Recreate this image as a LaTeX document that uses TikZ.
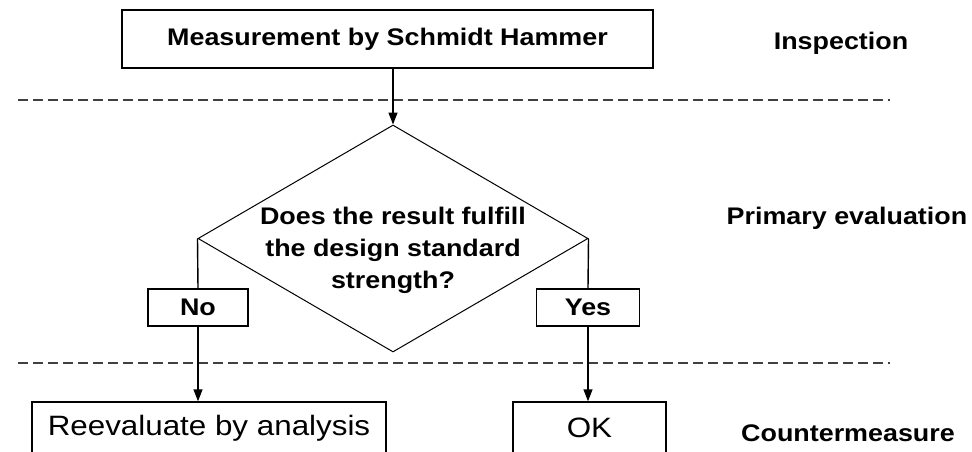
\documentclass[tikz,border=0pt]{standalone}
\usepackage{fontspec}
\setmainfont{Liberation Sans}[FakeStretch=1.12]
\usetikzlibrary{shapes.geometric,arrows.meta}
\begin{document}
\begin{tikzpicture}[x=1pt,y=-1pt,
  box/.style={draw, line width=1.4pt, inner sep=0pt},
  lab/.style={font=\fontsize{24}{32}\selectfont\bfseries},
  plain/.style={font=\fontsize{28}{32}\selectfont},
  sep/.style={dash pattern=on 10pt off 5pt, line width=1.2pt, black!75},
  conn/.style={line width=1.4pt},
  arr/.style={conn, -{Triangle[length=12pt,width=9pt]}}]
\useasboundingbox (0,0) rectangle (972,452);
\clip (0,0) rectangle (972,452);
% separators
\draw[sep] (18,100) -- (890,100);
\draw[sep] (18,363) -- (890,363);
% nodes
\node[box, lab, minimum width=531pt, minimum height=58pt] (top) at (387.5,39) {Measurement by Schmidt Hammer};
\node[draw, diamond, minimum width=390pt, minimum height=227pt, inner sep=0pt, line width=1pt] (dia) at (393,238.5) {};
\node[lab, align=center] (q) at (393,250) {Does the result fulfill\\the design standard\\strength?};
\node[box, lab, minimum width=100pt, minimum height=37pt] (no) at (198,307.5) {No};
\node[box, lab, minimum width=103pt, minimum height=37pt] (yes) at (588,307.5) {Yes};
\node[box, plain, minimum width=354pt, minimum height=52pt] (re) at (209,428) {Reevaluate by analysis};
\node[box, plain, minimum width=153pt, minimum height=52pt] (ok) at (589.5,428) {OK};
% phase labels
\node[lab] (ins) at (841,43) {Inspection};
\node[lab] (pe) at (847,218) {Primary evaluation};
\node[lab] (cm) at (848,433) {Countermeasure};
% connectors
\draw[arr] (dia.north |- top.south) -- (dia.north);
\draw[conn] (dia.west) -- (no.north);
\draw[arr] (no.south) -- (no.south |- re.north);
\draw[conn] (dia.east) -- (yes.north);
\draw[arr] (yes.south) -- (yes.south |- ok.north);
\end{tikzpicture}
\end{document}
